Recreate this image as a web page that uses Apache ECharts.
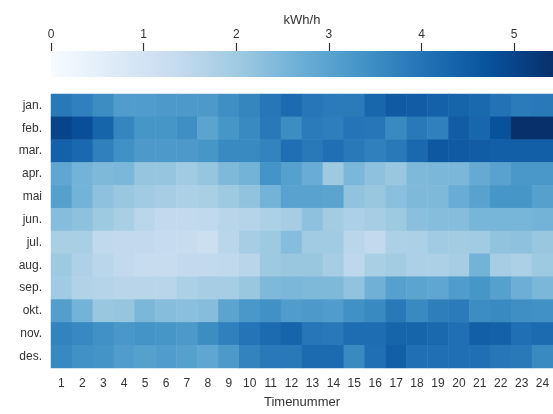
<!DOCTYPE html>
<html>
<head>
<meta charset="utf-8">
<script src="https://cdn.jsdelivr.net/npm/echarts@6/dist/echarts.min.js"></script>
<style>html,body{margin:0;padding:0;background:#fff;}#c{width:553px;height:414px;}</style>
</head>
<body>
<div id="c"></div>
<script>
const months = ['jan.','feb.','mar.','apr.','mai','jun.','jul.','aug.','sep.','okt.','nov.','des.'];
const hours = ['1','2','3','4','5','6','7','8','9','10','11','12','13','14','15','16','17','18','19','20','21','22','23','24'];
const colorbarTicks = [0,1,2,3,4,5];
const colorMin = 0;
const colorMax = 5.42;

const jan = [3.9,3.75,3.5,3.15,3.15,3.2,3.2,3.2,3.45,3.65,3.95,4.2,3.95,3.85,3.85,4.3,4.55,4.5,4.4,4.35,4.25,4.05,3.85,3.9];
const feb = [5.0,4.8,4.35,3.65,3.3,3.3,3.45,2.95,3.3,3.55,3.9,3.5,3.85,3.8,4.0,3.95,3.55,3.9,3.75,4.5,4.3,4.75,5.42,5.4];
const mar = [4.4,4.25,3.75,3.4,3.2,3.2,3.2,3.3,3.55,3.55,3.7,4.1,3.9,4.1,3.9,3.75,3.9,4.25,4.6,4.55,4.5,4.45,4.45,4.45];
const apr = [2.9,2.6,2.45,2.5,2.15,2.15,2.0,2.15,2.45,2.6,3.35,3.05,2.75,2.05,2.5,2.25,2.1,2.45,2.5,2.5,2.8,3.0,3.25,3.25];
const mai = [3.05,2.6,2.25,2.1,2.0,1.9,1.8,1.85,2.05,2.2,2.6,3.0,3.0,2.95,2.2,2.1,2.3,2.45,2.45,2.75,3.0,3.3,3.3,3.05];
const jun = [2.35,2.25,2.05,1.85,1.55,1.4,1.4,1.45,1.6,1.65,1.8,1.9,2.25,1.95,1.8,1.9,2.05,2.3,2.35,2.35,2.55,2.55,2.55,2.6];
const jul = [1.85,1.85,1.45,1.4,1.4,1.35,1.3,1.2,1.55,1.9,2.05,2.35,2.0,2.0,1.55,1.4,1.8,1.8,2.0,1.95,2.0,2.2,2.25,2.1];
const aug = [2.05,1.75,1.55,1.4,1.3,1.3,1.4,1.4,1.45,1.6,2.05,2.1,2.1,1.9,1.5,1.85,1.95,1.8,1.8,1.9,2.6,1.9,1.8,2.05];
const sep = [2.0,1.7,1.65,1.6,1.6,1.6,1.8,1.9,1.9,2.1,2.45,2.5,2.45,2.45,2.2,2.65,3.05,2.95,2.9,3.15,3.3,3.05,2.7,2.5];
const okt = [3.1,2.6,2.1,2.15,2.5,2.35,2.3,2.35,2.95,3.25,3.4,3.15,3.2,3.15,3.4,3.55,3.9,3.55,3.8,3.85,3.5,3.55,3.45,3.4];
const nov = [3.7,3.6,3.4,3.25,3.35,3.3,3.2,3.5,3.75,4.0,4.2,4.35,3.95,3.9,4.15,4.15,4.35,4.35,4.25,4.1,4.45,4.4,4.1,4.2];
const des = [3.6,3.4,3.35,3.15,3.05,3.15,3.05,2.9,3.2,3.7,3.9,3.9,4.2,4.2,3.55,4.1,4.45,4.1,4.1,4.1,4.1,3.95,3.9,3.55];

const rows = [jan,feb,mar,apr,mai,jun,jul,aug,sep,okt,nov,des];
const data = [];
rows.forEach((r, mi) => r.forEach((v, hi) => data.push([hi, mi, v])));

const blues = ['#f7fbff','#deebf7','#c6dbef','#9ecae1','#6baed6','#4292c6','#2171b5','#08519c','#08306b'];
const txt = '#333333';
const font = 'Liberation Sans, Arial, sans-serif';

const CB = {left: 51, top: 51, width: 502, height: 26};

const chart = echarts.init(document.getElementById('c'), null, {renderer:'canvas'});
chart.setOption({
  animation: false,
  textStyle: {fontFamily: font},
  grid: [
    {left: 51, top: 94, width: 502, height: 275, containLabel: false},
    {left: CB.left, top: CB.top, width: CB.width, height: CB.height, containLabel: false}
  ],
  xAxis: [
    {
      type: 'category', data: hours, gridIndex: 0, position: 'bottom',
      axisLine: {show: false}, axisTick: {show: false}, splitLine: {show: false},
      axisLabel: {color: txt, fontSize: 12, margin: 10, fontFamily: font},
      name: 'Timenummer', nameLocation: 'middle', nameGap: 28,
      nameTextStyle: {color: txt, fontSize: 13, fontFamily: font}
    },
    {
      type: 'value', gridIndex: 1, position: 'top', min: colorMin, max: colorMax,
      axisLine: {show: true, onZero: false, lineStyle: {color: 'rgba(0,0,0,0)', width: 0}},
      axisTick: {show: true, inside: false, length: 8, customValues: colorbarTicks, lineStyle: {color: txt, width: 1.2}},
      axisLabel: {show: true, customValues: colorbarTicks, color: txt, fontSize: 12, margin: 10, fontFamily: font},
      splitLine: {show: false},
      name: 'kWh/h', nameLocation: 'middle', nameGap: 24,
      nameTextStyle: {color: txt, fontSize: 13, fontFamily: font}
    }
  ],
  yAxis: [
    {
      type: 'category', data: months, gridIndex: 0, inverse: true,
      axisLine: {show: false}, axisTick: {show: false}, splitLine: {show: false},
      axisLabel: {color: txt, fontSize: 12, margin: 9, fontFamily: font}
    },
    {type: 'value', gridIndex: 1, show: false, min: 0, max: 1}
  ],
  visualMap: {
    type: 'continuous', min: colorMin, max: colorMax, seriesIndex: 0, show: false,
    inRange: {color: blues}
  },
  graphic: [
    {
      type: 'rect', left: CB.left, top: CB.top, z: 0, silent: true,
      shape: {width: CB.width, height: CB.height},
      style: {
        fill: new echarts.graphic.LinearGradient(0, 0, 1, 0,
          blues.map((c, i) => ({offset: i / (blues.length - 1), color: c})))
      }
    }
  ],
  series: [
    {
      type: 'heatmap', xAxisIndex: 0, yAxisIndex: 0, data: data,
      itemStyle: {borderWidth: 0}, emphasis: {disabled: true}
    }
  ]
});
</script>
</body>
</html>
